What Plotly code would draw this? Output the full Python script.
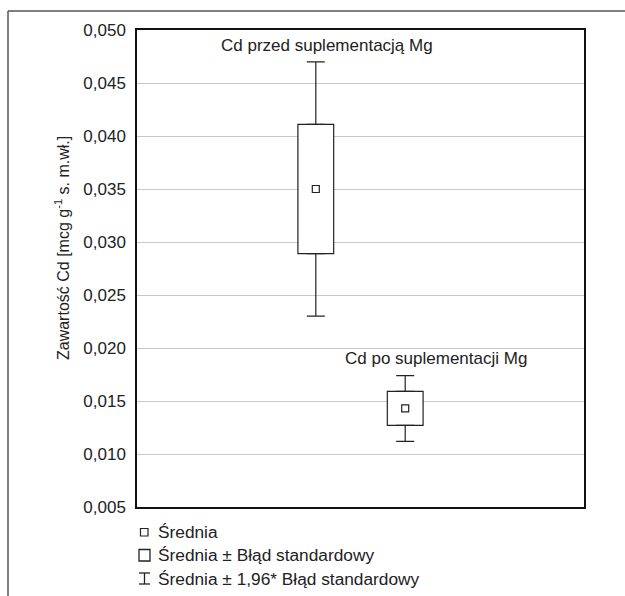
import plotly.graph_objects as go

# ---- data ----
groups = ["Cd przed suplementacją Mg", "Cd po suplementacji Mg"]
positions = [2, 3]
means = [0.0350, 0.0143]
se_low = [0.0289, 0.0127]      # mean - SE
se_high = [0.0411, 0.0159]     # mean + SE
ci_low = [0.0230, 0.0112]      # mean - 1.96*SE
ci_high = [0.0470, 0.0174]     # mean + 1.96*SE
y_ticks = [0.005, 0.010, 0.015, 0.020, 0.025, 0.030, 0.035, 0.040, 0.045, 0.050]
legend_labels = ["Średnia", "Średnia ± Błąd standardowy", "Średnia ± 1,96* Błąd standardowy"]

FONT = "Liberation Sans, Arial, sans-serif"
INK = "#222222"

W, H = 625, 596
L, R, T, B = 137, 41, 30, 89

fig = go.Figure()

# whiskers (mean ± 1.96*SE), drawn as error bars from the box edges
fig.add_trace(go.Scatter(
    x=positions, y=se_high, mode="markers",
    marker=dict(size=1, opacity=0),
    error_y=dict(type="data", symmetric=False,
                 array=[h - s for h, s in zip(ci_high, se_high)], arrayminus=[0, 0],
                 color=INK, thickness=1.2, width=9),
    showlegend=False, hoverinfo="skip",
))
fig.add_trace(go.Scatter(
    x=positions, y=se_low, mode="markers",
    marker=dict(size=1, opacity=0),
    error_y=dict(type="data", symmetric=False,
                 array=[0, 0], arrayminus=[s - l for s, l in zip(se_low, ci_low)],
                 color=INK, thickness=1.2, width=9),
    showlegend=False, hoverinfo="skip",
))

# boxes (mean ± SE)
fig.add_trace(go.Bar(
    x=positions,
    y=[h - l for h, l in zip(se_high, se_low)],
    base=se_low,
    width=0.4,
    marker=dict(color="white", line=dict(color=INK, width=1.2)),
    showlegend=False, hoverinfo="skip",
))

# means
fig.add_trace(go.Scatter(
    x=positions, y=means, mode="markers",
    marker=dict(symbol="square-open", size=7, color=INK, line=dict(width=1.2, color=INK)),
    showlegend=False, hoverinfo="skip",
))

pw, ph = W - L - R, H - T - B
def px(x):
    return (x - L) / pw
def py(y):
    return (H - B - y) / ph

# group labels
label_pos = [(2.13, ci_high[0] + 0.00150), (3.35, se_high[1] + 0.0031)]
for name, (lx, ly) in zip(groups, label_pos):
    fig.add_annotation(x=lx, y=ly, xref="x", yref="y", text=name, showarrow=False,
                       font=dict(family=FONT, size=17, color=INK), xanchor="center", yanchor="middle")

# y axis title
fig.add_annotation(
    x=px(62), y=py(248), xref="paper", yref="paper",
    text="Zawartość Cd [mcg g<sup>-1</sup> s. m.wł.]", textangle=-90, showarrow=False,
    font=dict(family=FONT, size=16, color=INK), xanchor="center", yanchor="middle")

# legend (manual)
legend_rows_y = [532, 555, 578.5]
for txt, yy in zip(legend_labels, legend_rows_y):
    fig.add_annotation(x=px(156), y=py(yy), xref="paper", yref="paper", text=txt,
                       showarrow=False, xanchor="left", yanchor="middle",
                       font=dict(family=FONT, size=17.3, color=INK))
# symbols
fig.add_shape(type="rect", xref="paper", yref="paper",
              x0=px(140.5), x1=px(148), y0=py(528.5), y1=py(536),
              line=dict(color=INK, width=1.2), fillcolor="white")
fig.add_shape(type="rect", xref="paper", yref="paper",
              x0=px(139), x1=px(150), y0=py(549.5), y1=py(561),
              line=dict(color=INK, width=1.3), fillcolor="white")
for (x0, y0, x1, y1) in [(144.5, 573, 144.5, 584), (139, 573, 150, 573), (139, 584, 150, 584)]:
    fig.add_shape(type="line", xref="paper", yref="paper",
                  x0=px(x0), x1=px(x1), y0=py(y0), y1=py(y1),
                  line=dict(color=INK, width=1.3))

# outer frame (top + left lines)
fig.add_shape(type="line", xref="paper", yref="paper", x0=px(8), x1=px(625), y0=py(11), y1=py(11),
              line=dict(color="#555555", width=1.5))
fig.add_shape(type="line", xref="paper", yref="paper", x0=px(8), x1=px(8), y0=py(11), y1=py(600),
              line=dict(color="#555555", width=1.5))

fig.update_layout(
    width=W, height=H,
    margin=dict(l=L, r=R, t=T, b=B),
    paper_bgcolor="white", plot_bgcolor="white",
    separators=", ",
    font=dict(family=FONT, size=17, color=INK),
    xaxis=dict(range=[0, 5], showticklabels=False, ticks="", showgrid=False, zeroline=False,
               showline=True, mirror=True, linecolor="#111111", linewidth=1.5),
    yaxis=dict(range=[0.005, 0.050], tickvals=y_ticks, tickformat=".3f",
               showgrid=True, gridcolor="#c8c8c8", gridwidth=1, zeroline=False,
               showline=True, mirror=True, linecolor="#111111", linewidth=1.5,
               ticks="", ticklabelstandoff=6,
               tickfont=dict(family=FONT, size=17, color=INK)),
    showlegend=False,
)

fig.write_html("out.html")
